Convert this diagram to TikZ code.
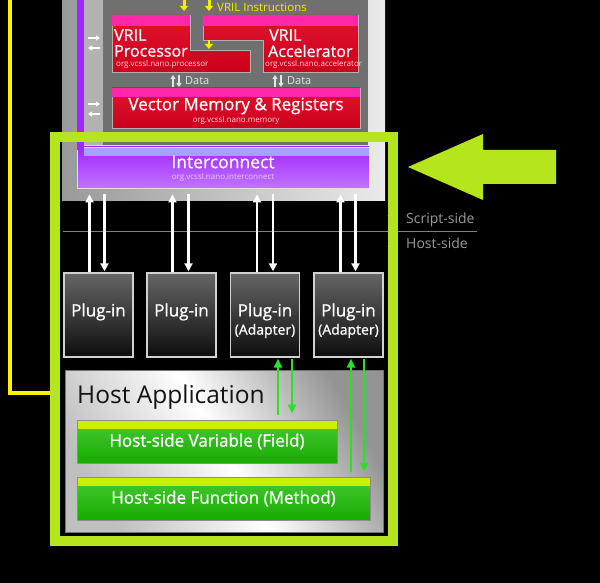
\documentclass[tikz,border=0pt]{standalone}
\usepackage{fontspec}
\setmainfont{Open Sans}
\newfontfamily\medfont{Open Sans}[FakeBold=0.9]
\usetikzlibrary{arrows.meta}
\definecolor{framegreen}{RGB}{181,230,29}
\definecolor{vrilred}{RGB}{222,0,30}
\definecolor{vrilpink}{RGB}{255,40,170}
\definecolor{vrilyellow}{RGB}{240,240,0}
\definecolor{icpurple}{RGB}{160,40,255}
\definecolor{icstripe}{RGB}{140,140,255}
\definecolor{hostgreen}{RGB}{25,190,0}
\definecolor{hoststripe}{RGB}{205,240,0}
\definecolor{arrowgreen}{RGB}{40,225,40}
\tikzset{
  panel/.style = {rectangle, inner sep=0pt, minimum width=323, minimum height=205,
                  left color=black!40, right color=black!8},
  redblock/.style = {draw=black!30, line width=0.6, top color=vrilred!92!white,
                     bottom color=vrilred!92!black},
  vriltext/.style = {text=white, inner sep=0pt, font=\medfont\fontsize{16}{18}\selectfont},
  subtext/.style = {text=white!85!red, inner sep=0pt, font=\fontsize{8}{9}\selectfont},
  icbox/.style = {rectangle, draw=black!12, line width=0.8, inner sep=0pt,
                  minimum width=292, minimum height=41,
                  top color=icpurple, bottom color=icpurple!65!white,
                  path picture={\fill[icstripe!80!white]
                    ([xshift=7pt]path picture bounding box.north west) rectangle
                    ([yshift=-9pt]path picture bounding box.north east);}},
  plugin/.style = {rectangle, draw=black!18, line width=1.4, inner sep=0pt,
                   minimum width=69, minimum height=84,
                   top color=black!60, bottom color=black!95},
  plugtext/.style = {text=white, inner sep=0pt, font=\medfont\fontsize{17}{19}\selectfont},
  hostapp/.style = {rectangle, draw=black!55, line width=1, inner sep=0pt,
                    minimum width=318, minimum height=162,
                    left color=black!25, right color=black!42, middle color=white,
                    shading angle=120},
  hostbox/.style = {rectangle, draw=black!45, line width=1, inner sep=0pt,
                    minimum height=43, top color=hostgreen!80!white,
                    bottom color=hostgreen!90!black, text=white,
                    font=\medfont\fontsize{17}{19}\selectfont,
                    path picture={\fill[hoststripe]
                      (path picture bounding box.north west) rectangle
                      ([yshift=-9pt]path picture bounding box.north east);}},
  wire/.style = {white, line width=2.4, -{Triangle[length=8pt,width=8pt]}},
  gwire/.style = {arrowgreen, line width=2.8, -{Triangle[length=9pt,width=8pt]}},
  yarrow/.style = {vrilyellow, line width=3, -{Triangle[length=5pt,width=8pt]}},
  darrow/.style = {black!10, line width=1.8, -{Triangle[length=4pt,width=5pt]}},
  sarrow/.style = {white, line width=1.5, -{Triangle[length=4pt,width=5pt]}},
  yline/.style = {yellow, line width=3.4}
}

\begin{document}
\begin{tikzpicture}[x=1pt, y=-1pt]
	\useasboundingbox (0,0) rectangle (600,583);
	\fill[black] (0,0) rectangle (600,583);

	% Yellow link
	\coordinate (ytop) at (10,-5);
	\coordinate (yend) at (50,393);
	\draw[yline] (ytop) |- (yend);

	% Gray panel
	\node[panel] (pnl) at (223.5,97.5) {};
	\fill[black!30] (84,-5) rectangle (103,145);
	\fill[black!56] (103,-5) rectangle (368,145);
	\draw[black!15, line width=0.8] (84,145) -- (368,145);

	% Interconnect
	\node[icbox] (ic) at (223,167.5) {};
	\fill[icpurple] (77,-5) rectangle (84,150);
	\node[text=white, font=\medfont\fontsize{17.5}{19}\selectfont] (ictitle) at (223,162) {Interconnect};
	\node[subtext, text=icpurple!25!white] (icsub) at (223,177) {org.vcssl.nano.interconnect};

	% VRIL blocks
	\path[redblock] (112,15) -- (190,15) -- (190,50) -- (250,50) -- (250,72) -- (112,72) -- cycle;
	\fill[vrilpink] (112,15) rectangle (190,26);
	\path[redblock] (203,15) -- (358,15) -- (358,72) -- (263,72) -- (263,40) -- (203,40) -- cycle;
	\fill[vrilpink] (203,15) rectangle (358,26);
	\path[redblock] (112,88) rectangle (360,128);
	\fill[vrilpink] (112,88) rectangle (360,97);

	\node[vriltext, anchor=west] (procA) at (114,35) {VRIL};
	\node[vriltext, anchor=west] (procB) at (114,51) {Processor};
	\node[subtext, anchor=west] (procC) at (116,64) {org.vcssl.nano.processor};
	\node[vriltext, anchor=west] (accA) at (269,35) {VRIL};
	\node[vriltext, anchor=west] (accB) at (268,51) {Accelerator};
	\node[subtext, anchor=west] (accC) at (265,64) {org.vcssl.nano.accelerator};
	\node[vriltext, font=\medfont\fontsize{17}{19}\selectfont] (memA) at (236,106) {Vector Memory \& Registers};
	\node[subtext] (memB) at (236,120) {org.vcssl.nano.memory};

	% Instructions and data
	\draw[yarrow] (184,-2) -- (184,11);
	\draw[yarrow] (209,-2) -- (209,11);
	\node[anchor=west, inner sep=0pt, text=vrilyellow, font=\fontsize{11.5}{13}\selectfont] (instr) at (217,7) {VRIL Instructions};
	\draw[yarrow, line width=2.2] (209,40) -- (209,49);

	\draw[darrow] (173,87) -- (173,75);
	\draw[darrow] (179,75) -- (179,87);
	\node[anchor=west, inner sep=0pt, text=black!10, font=\fontsize{11}{13}\selectfont] (dataA) at (185,81) {Data};
	\draw[darrow] (275,87) -- (275,75);
	\draw[darrow] (281,75) -- (281,87);
	\node[anchor=west, inner sep=0pt, text=black!10, font=\fontsize{11}{13}\selectfont] (dataB) at (287,81) {Data};

	\draw[sarrow] (88,38) -- (100,38);
	\draw[sarrow] (100,48) -- (88,48);
	\draw[sarrow] (88,104) -- (100,104);
	\draw[sarrow] (100,114) -- (88,114);

	% Script-side / Host-side
	\draw[black!50, line width=0.8] (63,231) -- (477,231);
	\draw[black!60, line width=2.4, -{Triangle[length=5pt,width=7pt]}] (391,226) -- (391,211);
	\draw[black!60, line width=2.4, -{Triangle[length=5pt,width=7pt]}] (391,236) -- (391,251);
	\node[anchor=west, inner sep=0pt, text=black!40, font=\fontsize{14}{16}\selectfont] (script) at (406,220) {Script-side};
	\node[anchor=west, inner sep=0pt, text=black!40, font=\fontsize{14}{16}\selectfont] (hostside) at (406,243) {Host-side};

	% Plug-ins
	\node[plugin] (p1) at (98.5,315) {};
	\node[plugin] (p2) at (181.5,315) {};
	\node[plugin] (p3) at (265,315) {};
	\node[plugin] (p4) at (348.5,315) {};
	\node[plugtext] (p1a) at (98.5,312) {Plug-in};
	\node[plugtext] (p2a) at (181.5,312) {Plug-in};
	\node[plugtext] (p3a) at (265,312) {Plug-in};
	\node[plugtext, font=\medfont\fontsize{14}{16}\selectfont] (p3b) at (265,331) {(Adapter)};
	\node[plugtext] (p4a) at (348.5,312) {Plug-in};
	\node[plugtext, font=\medfont\fontsize{14}{16}\selectfont] (p4b) at (348.5,331) {(Adapter)};

	\draw[wire, shorten >=6pt] ([xshift=-9pt]p1.north) -- ([xshift=-9pt]p1.north |- ic.south);
	\draw[wire, shorten <=6pt, shorten >=1pt] ([xshift=6pt]p1.north |- ic.south) -- ([xshift=6pt]p1.north);
	\draw[wire, shorten >=6pt] ([xshift=-9pt]p2.north) -- ([xshift=-9pt]p2.north |- ic.south);
	\draw[wire, shorten <=6pt, shorten >=1pt] ([xshift=7pt]p2.north |- ic.south) -- ([xshift=7pt]p2.north);
	\draw[wire, shorten >=6pt] ([xshift=-8pt]p3.north) -- ([xshift=-8pt]p3.north |- ic.south);
	\draw[wire, shorten <=6pt, shorten >=1pt] ([xshift=8pt]p3.north |- ic.south) -- ([xshift=8pt]p3.north);
	\draw[wire, shorten >=6pt] ([xshift=-8pt]p4.north) -- ([xshift=-8pt]p4.north |- ic.south);
	\draw[wire, shorten <=6pt, shorten >=1pt] ([xshift=7pt]p4.north |- ic.south) -- ([xshift=7pt]p4.north);

	% Host application
	\node[hostapp] (host) at (224,451) {};
	\node[anchor=west, inner sep=0pt, text=black!92, font=\fontsize{24.5}{27}\selectfont] (hosttitle) at (77,397) {Host Application};
	\node[hostbox, minimum width=260] (var) at (207,441.5) {Host-side Variable (Field)};
	\node[hostbox, minimum width=293] (fun) at (223.5,498.5) {Host-side Function (Method)};

	\coordinate (ga) at (278,0);
	\coordinate (gb) at (292,0);
	\coordinate (gc) at (351,0);
	\coordinate (gd) at (364,0);
	\draw[gwire, shorten <=5pt, shorten >=1pt] (var.north -| ga) -- (p3.south -| ga);
	\draw[gwire, shorten <=1pt, shorten >=6pt] (p3.south -| gb) -- (var.north -| gb);
	\draw[gwire, shorten <=5pt, shorten >=1pt] (fun.north -| gc) -- (p4.south -| gc);
	\draw[gwire, shorten <=1pt, shorten >=5pt] (p4.south -| gd) -- (fun.north -| gd);

	% Frame and pointer
	\draw[framegreen, line width=10] (55,137) rectangle (393,541);
	\fill[framegreen] (408,167) -- (483,134) -- (483,150) -- (556,150) -- (556,184) -- (483,184) -- (483,200) -- cycle;
\end{tikzpicture}
\end{document}
